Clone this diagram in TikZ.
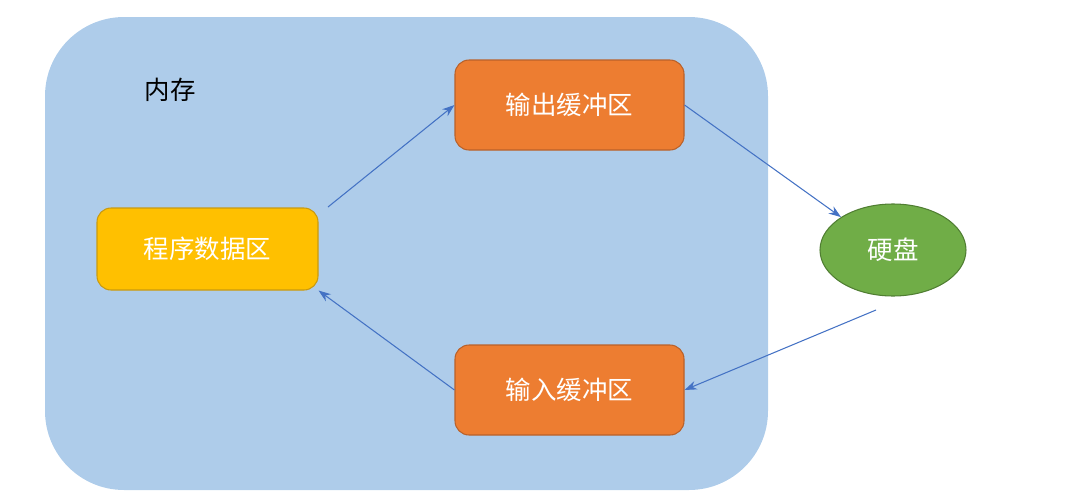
\documentclass[tikz,border=0pt]{standalone}
\usepackage{fontspec}
\setmainfont{Noto Sans CJK SC}
\usetikzlibrary{shapes.geometric,arrows.meta}
\definecolor{bgblue}{HTML}{AECCEA}
\definecolor{orng}{HTML}{ED7D31}
\definecolor{orngd}{HTML}{B9612A}
\definecolor{gold}{HTML}{FFC000}
\definecolor{goldd}{HTML}{C99A10}
\definecolor{grn}{HTML}{70AD47}
\definecolor{grnd}{HTML}{507E32}
\definecolor{arr}{HTML}{4472C4}
\tikzset{
  box/.style={draw=#1, line width=0.6pt, rounded corners=8pt, text=white, font=\fontsize{14.5}{16}\selectfont},
  link/.style={draw=arr, line width=0.6pt, -{Stealth[length=7pt,width=5pt]}}
}
\begin{document}
\begin{tikzpicture}[x=0.02cm,y=-0.02cm]
\useasboundingbox (0,0) rectangle (1090,504);
\fill[bgblue, rounded corners=45pt] (45,17) rectangle (768,490);
\node[font=\fontsize{14.5}{16}\selectfont] (mem) at (170,90) {内存};
\node[box=orngd, fill=orng, minimum width=229*0.02cm, minimum height=90*0.02cm] (out) at (569.5,105) {输出缓冲区};
\node[box=orngd, fill=orng, minimum width=229*0.02cm, minimum height=90*0.02cm] (in) at (569.5,390) {输入缓冲区};
\node[box=goldd, fill=gold, minimum width=221*0.02cm, minimum height=82*0.02cm] (prog) at (207.5,249) {程序数据区};
\node[ellipse, draw=grnd, fill=grn, line width=0.6pt, text=white, font=\fontsize{14.5}{16}\selectfont, minimum width=146*0.02cm, minimum height=92*0.02cm, inner sep=0pt] (disk) at (893,250) {硬盘};
\coordinate (a1) at (328,207);
\coordinate (a2) at (876,310);
\draw[link] (a1) -- (out.west);
\draw[link] ([yshift=0pt]out.east) -- (disk.north west);
\draw[link] (a2) -- (in.east);
\draw[link] (in.west) -- (prog.south east);
\end{tikzpicture}
\end{document}
